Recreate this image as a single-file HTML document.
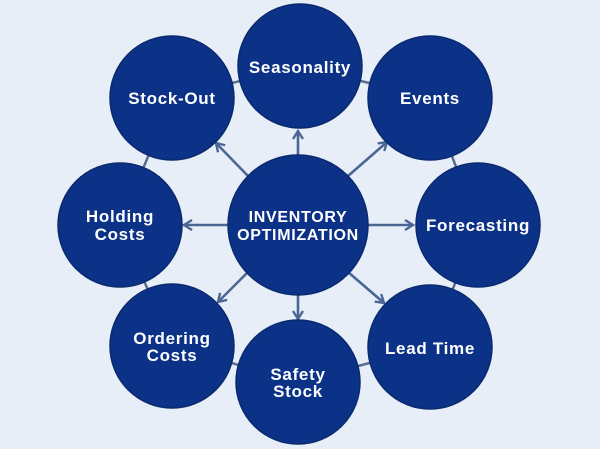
<!DOCTYPE html>
<html><head><style>
html,body{margin:0;padding:0;background:#e7eef8;}
svg{display:block;}
text{font-family:"Liberation Sans",sans-serif;font-weight:bold;fill:#fff;text-anchor:middle;}
</style></head><body>
<svg width="600" height="449" viewBox="0 0 600 449">
<rect width="600" height="449" fill="#e7eef8"/>
<defs><marker id="a" markerWidth="12" markerHeight="12" refX="9" refY="6" orient="auto" markerUnits="userSpaceOnUse"><path d="M1,1 L9,6 L1,11" fill="none" stroke="#4a6794" stroke-width="2.4"/></marker></defs>
<g stroke="#5a6d8e" stroke-width="2.5">
<polygon points="300,66 430,98 478,225 430,347 298,382 172,346 120,225 172,98" fill="none"/>
</g>
<g stroke="#4a6794" stroke-width="2.6" marker-end="url(#a)">
<line x1="298" y1="155" x2="298" y2="131"/>
<line x1="348" y1="176" x2="387" y2="142"/>
<line x1="248" y1="176" x2="216" y2="143"/>
<line x1="368" y1="225" x2="413" y2="225"/>
<line x1="228" y1="225" x2="184" y2="225"/>
<line x1="248" y1="272" x2="218" y2="302"/>
<line x1="348" y1="272" x2="384" y2="303"/>
<line x1="298" y1="294" x2="298" y2="319"/>
</g>
<g fill="#0c3288" stroke="#0a2a6e" stroke-width="1.5">
<circle cx="298" cy="225" r="70"/>
<circle cx="300" cy="66" r="62"/>
<circle cx="430" cy="98" r="62"/>
<circle cx="478" cy="225" r="62"/>
<circle cx="430" cy="347" r="62"/>
<circle cx="298" cy="382" r="62"/>
<circle cx="172" cy="346" r="62"/>
<circle cx="120" cy="225" r="62"/>
<circle cx="172" cy="98" r="62"/>
</g>
<g font-size="17" letter-spacing="0.7">
<text x="300" y="73">Seasonality</text>
<text x="430" y="104">Events</text>
<text x="478" y="231">Forecasting</text>
<text x="430" y="354">Lead Time</text>
<text x="298" y="380">Safety</text>
<text x="298" y="397">Stock</text>
<text x="172" y="344">Ordering</text>
<text x="172" y="361">Costs</text>
<text x="120" y="222">Holding</text>
<text x="120" y="240">Costs</text>
<text x="172" y="104">Stock-Out</text>
<text x="298" y="222" font-size="16">INVENTORY</text>
<text x="298" y="240" font-size="16">OPTIMIZATION</text>
</g>
</svg>
</body></html>
